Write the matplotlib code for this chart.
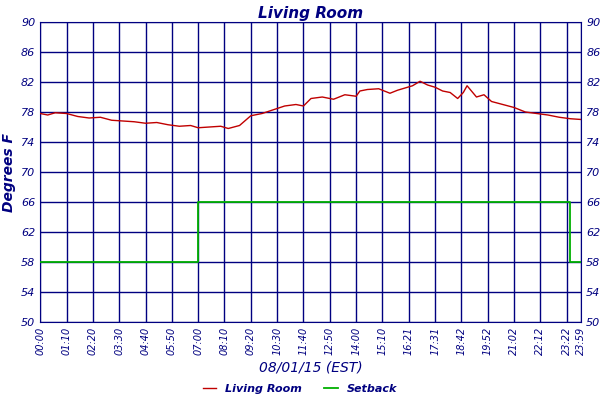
import matplotlib
matplotlib.use("Agg")
import matplotlib.pyplot as plt

NAVY = "#000080"

# minutes since midnight / degrees F
room_t = [0, 20, 40, 70, 100, 130, 160, 190, 220, 250, 280, 310, 340, 370, 400, 420,
          450, 480, 500, 530, 560, 590, 620, 650, 680, 700, 720, 750, 780, 810, 840,
          850, 870, 900, 930, 950, 970, 990, 1010, 1030, 1050, 1070, 1090, 1110, 1125,
          1135, 1145, 1160, 1180, 1200, 1230, 1260, 1290, 1320, 1350, 1380, 1410, 1439]
room_v = [77.8, 77.6, 77.9, 77.8, 77.4, 77.2, 77.3, 76.9, 76.8, 76.7, 76.5, 76.6, 76.3,
          76.1, 76.2, 75.9, 76.0, 76.1, 75.8, 76.2, 77.5, 77.8, 78.3, 78.8, 79.0, 78.8,
          79.8, 80.0, 79.7, 80.3, 80.1, 80.8, 81.0, 81.1, 80.5, 80.9, 81.2, 81.5, 82.1,
          81.6, 81.3, 80.8, 80.6, 79.8, 80.6, 81.5, 80.9, 80.0, 80.3, 79.4, 79.0, 78.6,
          78.0, 77.8, 77.6, 77.3, 77.1, 77.0]
setback_t = [0, 420, 420, 1410, 1410, 1439]
setback_v = [58, 58, 66, 66, 58, 58]
tick_labels = ["00:00", "01:10", "02:20", "03:30", "04:40", "05:50", "07:00", "08:10",
               "09:20", "10:30", "11:40", "12:50", "14:00", "15:10", "16:21", "17:31",
               "18:42", "19:52", "21:02", "22:12", "23:22", "23:59"]
tick_pos = [i * 70 for i in range(21)] + [1439]
yticks = list(range(50, 91, 4))

fig = plt.figure(figsize=(6, 4), dpi=100)
ax = fig.add_axes([0.067, 0.195, 0.902, 0.75])
ax.plot(setback_t, setback_v, color="#00b000", lw=1.3, zorder=3, label="Setback")
ax.plot(room_t, room_v, color="#c00000", lw=1.0, zorder=4, label="Living Room")
ax.set_xlim(0, 1439)
ax.set_ylim(50, 90)
ax.set_xticks(tick_pos)
ax.set_xticklabels(tick_labels, rotation=90, fontsize=7, style="italic", color=NAVY)
ax.set_yticks(yticks)
ax.tick_params(axis="y", labelsize=8, labelcolor=NAVY, right=True, labelright=True,
               length=0)
ax.tick_params(axis="x", length=0)
for lab in ax.get_yticklabels():
    lab.set_style("italic")
ax.grid(color=NAVY, lw=1.0)
for s in ax.spines.values():
    s.set_color(NAVY)
ax.set_ylabel("Degrees F", fontsize=10, style="italic", weight="bold", color=NAVY)
ax.set_xlabel("08/01/15 (EST)", fontsize=10, style="italic", color=NAVY, labelpad=4)
ax.set_title("Living Room", fontsize=11, style="italic", weight="bold", color=NAVY, pad=3)

h, l = ax.get_legend_handles_labels()
leg = fig.legend(h[::-1], l[::-1], loc="lower center", ncol=2, frameon=False,
                 bbox_to_anchor=(0.5, -0.01), prop={"size": 8, "style": "italic",
                                                    "weight": "bold"},
                 handlelength=1.2, columnspacing=2)
for t in leg.get_texts():
    t.set_color(NAVY)

fig.savefig("out.png", dpi=100)
